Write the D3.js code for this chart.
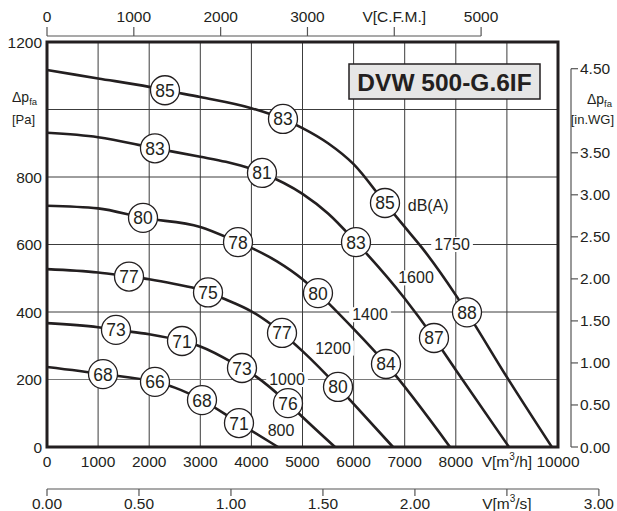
<!DOCTYPE html>
<html><head><meta charset="utf-8">
<script src="https://cdn.jsdelivr.net/npm/d3@7"></script>
<style>
html,body{margin:0;padding:0;background:#fff;}
text{font-family:"Liberation Sans",Arial,sans-serif;fill:#231f20;}
</style></head>
<body><svg id="c" width="617" height="511"></svg>
<script>
// ---- data (airflow m3/h, static pressure Pa) ----
const speeds = ["800","1000","1200","1400","1600","1750"];
const curve800  = [[0,237],[1096,216],[2113,193],[2500,176],[3033,139],[3757,71],[4520,0]];
const curve1000 = [[0,367],[1000,355],[1350,347],[2000,334],[2642,314],[3000,298],[3816,234],[4000,218],[4716,130],[5000,89],[5636,0]];
const curve1200 = [[0,527],[1000,517],[1605,505],[2000,497],[2500,483],[3000,466],[3151,458],[3500,437],[4000,402],[4599,338],[5000,284],[5695,178],[6000,128],[6771,0]];
const curve1400 = [[0,715],[1000,707],[1879,679],[3000,652],[3738,607],[4000,590],[4500,550],[5000,497],[5303,456],[6000,350],[6634,246],[7886,0]];
const curve1600 = [[0,931],[1000,918],[2113,885],[3000,860],[3500,845],[4000,824],[4207,812],[5000,750],[5500,692],[6047,607],[7000,440],[7573,323],[8000,228],[9041,0]];
const curve1750 = [[0,1117],[1000,1092],[2000,1067],[2309,1057],[3000,1037],[4000,1004],[4618,972],[5000,945],[5500,900],[6000,838],[6614,723],[7000,652],[7340,590],[8000,450],[8219,399],[9000,207],[9880,0]];
const curves = [curve800, curve1000, curve1200, curve1400, curve1600, curve1750];
// sound level markers [m3/h, Pa, dB(A)]
const soundMarks = [
  [1096,216,68],[2113,193,66],[3033,139,68],[3757,71,71],
  [1350,347,73],[2642,314,71],[3816,234,73],[4716,130,76],
  [1605,505,77],[3151,458,75],[4599,338,77],[5695,178,80],
  [1879,679,80],[3738,607,78],[5303,456,80],[6634,246,84],
  [2113,885,83],[4207,812,81],[6047,607,83],[7573,323,87],
  [2309,1057,85],[4618,972,83],[6614,723,85],[8219,399,88]
];
// speed label anchor points [m3/h, Pa]
const speedLabelPos = [[4580,50],[4697,200],[5597,293],[6321,392],[7221,501],[7926,600]];
const xTicksM3h = [0,1000,2000,3000,4000,5000,6000,7000,8000,9000,10000];
const yTicksPa = [0,200,400,600,800,1000,1200];
const xTicksCFM = [0,1000,2000,3000,4000,5000];
const xTicksM3s = [0,0.5,1,1.5,2,2.5,3];
const yTicksInWG = [0,0.5,1,1.5,2,2.5,3,3.5,4,4.5];
const title = "DVW 500-G.6IF";

// ---- scales ----
const svg = d3.select("#c");
const x = d3.scaleLinear().domain([0,10000]).range([47,558]);
const y = d3.scaleLinear().domain([0,1200]).range([447,42]);
const xCFM = d3.scaleLinear().domain([0,5000]).range([x(0), x(5000*1.69901)]);
const xM3s = d3.scaleLinear().domain([0,3]).range([x(0), x(3*3600)]);
const yWG = d3.scaleLinear().domain([0,4.5]).range([y(0), y(4.5*249.089)]);
const ink = "#231f20";
const FS = 15.5;

// grid
const g = svg.append("g");
g.selectAll("line.vx").data(xTicksM3h.slice(1,-1)).enter().append("line")
  .attr("x1",d=>x(d)).attr("x2",d=>x(d)).attr("y1",y(1200)).attr("y2",y(0))
  .attr("stroke","#3c3c3c").attr("stroke-width",1);
g.selectAll("line.hy").data(yTicksPa.slice(1,-1)).enter().append("line")
  .attr("x1",x(0)).attr("x2",x(10000)).attr("y1",d=>y(d)).attr("y2",d=>y(d))
  .attr("stroke",d=>d===200?"#7a7a7a":"#3c3c3c").attr("stroke-width",1);

// speed label backgrounds (hide grid lines behind labels), drawn before curves
const slG = svg.append("g");

// curves
const line = d3.line().x(d=>x(d[0])).y(d=>y(d[1])).curve(d3.curveMonotoneX);
svg.selectAll("path.crv").data(curves).enter().append("path")
  .attr("d",line).attr("fill","none").attr("stroke",ink).attr("stroke-width",2.6);

// frame
svg.append("rect").attr("x",x(0)).attr("y",y(1200)).attr("width",x(10000)-x(0)).attr("height",y(0)-y(1200))
  .attr("fill","none").attr("stroke",ink).attr("stroke-width",3);

// speed labels
const sl = slG.selectAll("g.sl").data(speeds).enter().append("g")
  .attr("transform",(d,i)=>`translate(${x(speedLabelPos[i][0])},${y(speedLabelPos[i][1])})`);
const slBg = sl.append("rect").attr("fill","#fff");
const slT = sl.append("text").text(d=>d).attr("text-anchor","middle").attr("dominant-baseline","central").attr("font-size",16);
slT.each(function(){
  const b = this.getBBox();
  d3.select(this.previousSibling).attr("x",b.x-3).attr("y",b.y+1).attr("width",b.width+6).attr("height",b.height-2);
});
svg.append("text").attr("x",x(7060)).attr("y",y(717)).attr("dominant-baseline","central")
  .attr("font-size",16).text("dB(A)");

// sound circles
const sm = svg.selectAll("g.sm").data(soundMarks).enter().append("g")
  .attr("transform",d=>`translate(${x(d[0])},${y(d[1])})`);
sm.append("circle").attr("r",14.5).attr("fill","#fff").attr("stroke",ink).attr("stroke-width",1.3);
sm.append("text").text(d=>d[2]).attr("text-anchor","middle").attr("dominant-baseline","central")
  .attr("font-size",17.5).attr("y",0.5);

// title box
svg.append("rect").attr("x",349).attr("y",64).attr("width",191).attr("height",35)
  .attr("fill","#e6e6e6").attr("stroke",ink).attr("stroke-width",1.5);
svg.append("text").attr("x",444.5).attr("y",82).attr("text-anchor","middle").attr("dominant-baseline","central")
  .attr("font-size",24.5).attr("font-weight","bold").text(title);

// left axis labels (1000 replaced by axis title)
svg.selectAll("text.yl").data(yTicksPa.filter(d=>d!==1000)).enter().append("text")
  .attr("x",42).attr("y",d=>y(d)).attr("text-anchor","end").attr("dominant-baseline","central")
  .attr("font-size",FS).text(d=>d);
const lt = svg.append("text").attr("x",12).attr("y",102).attr("font-size",14);
lt.append("tspan").text("Δp");
lt.append("tspan").text("fa").attr("font-size",9.5).attr("dy",3);
svg.append("text").attr("x",12).attr("y",124).attr("font-size",13).text("[Pa]");

// bottom m3/h labels
const bl = svg.selectAll("text.xl").data(xTicksM3h).enter().append("text")
  .attr("x",d=>x(d)).attr("y",461).attr("text-anchor","middle").attr("dominant-baseline","central")
  .attr("font-size",FS);
bl.each(function(d){
  const t = d3.select(this);
  if(d===9000){
    t.append("tspan").text("V[m");
    t.append("tspan").text("3").attr("font-size",10).attr("dy",-5);
    t.append("tspan").text("/h]").attr("dy",5);
  } else t.text(d);
});

// top CFM axis
const ty = 36;
svg.append("line").attr("x1",xCFM(0)).attr("x2",xCFM(5000)).attr("y1",ty).attr("y2",ty).attr("stroke","#555").attr("stroke-width",1.2);
svg.selectAll("line.tt").data(xTicksCFM).enter().append("line")
  .attr("x1",d=>xCFM(d)).attr("x2",d=>xCFM(d)).attr("y1",ty).attr("y2",ty-9).attr("stroke","#555").attr("stroke-width",1.2);
svg.selectAll("text.tl").data(xTicksCFM).enter().append("text")
  .attr("x",d=>xCFM(d)).attr("y",16).attr("text-anchor","middle").attr("dominant-baseline","central")
  .attr("font-size",FS).text(d=>d===4000?"V[C.F.M.]":d);

// bottom m3/s axis
const by = 489;
svg.append("line").attr("x1",xM3s(0)).attr("x2",xM3s(3)).attr("y1",by).attr("y2",by).attr("stroke","#555").attr("stroke-width",1.2);
svg.selectAll("line.bt").data(xTicksM3s).enter().append("line")
  .attr("x1",d=>xM3s(d)).attr("x2",d=>xM3s(d)).attr("y1",by).attr("y2",by+7).attr("stroke","#555").attr("stroke-width",1.2);
const sl2 = svg.selectAll("text.sl2").data(xTicksM3s).enter().append("text")
  .attr("x",d=>xM3s(d)).attr("y",503).attr("text-anchor","middle").attr("dominant-baseline","central")
  .attr("font-size",FS);
sl2.each(function(d){
  const t = d3.select(this);
  if(d===2.5){
    t.append("tspan").text("V[m");
    t.append("tspan").text("3").attr("font-size",10).attr("dy",-5);
    t.append("tspan").text("/s]").attr("dy",5);
  } else t.text(d3.format(".2f")(d));
});

// right in.WG axis
const rx = 571;
svg.append("line").attr("x1",rx).attr("x2",rx).attr("y1",yWG(0)).attr("y2",yWG(4.5)).attr("stroke","#555").attr("stroke-width",1.2);
const rt = yTicksInWG.filter(d=>d!==4);
svg.selectAll("line.rt").data(rt).enter().append("line")
  .attr("x1",rx).attr("x2",rx+7).attr("y1",d=>yWG(d)).attr("y2",d=>yWG(d)).attr("stroke","#555").attr("stroke-width",1.2);
svg.selectAll("text.rl").data(rt).enter().append("text")
  .attr("x",rx+9).attr("y",d=>yWG(d)).attr("dominant-baseline","central")
  .attr("font-size",FS).text(d=>d3.format(".2f")(d));
const rtt = svg.append("text").attr("x",612).attr("y",104).attr("font-size",14).attr("text-anchor","end");
rtt.append("tspan").text("Δp");
rtt.append("tspan").text("fa").attr("font-size",9.5).attr("dy",3);
svg.append("text").attr("x",614).attr("y",124).attr("font-size",13).attr("text-anchor","end").text("[in.WG]");
</script></body></html>
